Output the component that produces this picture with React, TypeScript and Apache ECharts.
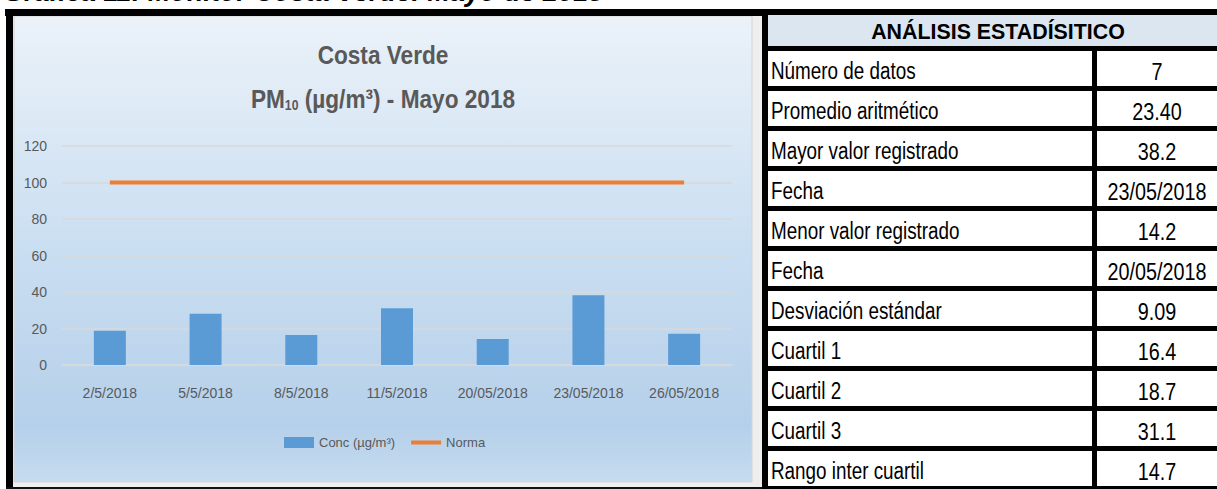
import React, { useEffect, useRef } from "react";
import * as echarts from "echarts";

const pageTitle = "Gráfica 11: Monitor Costa Verde: Mayo de 2018";
const chartTitleLine1 = "Costa Verde";
const chartTitlePrefix = "PM";
const chartTitleSub = "10";
const chartTitleSuffix = " (µg/m³) - Mayo 2018";

const categories = ["2/5/2018", "5/5/2018", "8/5/2018", "11/5/2018", "20/05/2018", "23/05/2018", "26/05/2018"];
const concValues = [18.7, 28.1, 16.4, 31.1, 14.2, 38.2, 17.1];
const normaValues = [100, 100, 100, 100, 100, 100, 100];
const seriesNames = ["Conc (µg/m³)", "Norma"];
const yMin = 0;
const yMax = 120;
const yInterval = 20;

const tableTitle = "ANÁLISIS ESTADÍSITICO";
const statLabels = [
  "Número de datos",
  "Promedio aritmético",
  "Mayor valor registrado",
  "Fecha",
  "Menor valor registrado",
  "Fecha",
  "Desviación estándar",
  "Cuartil 1",
  "Cuartil 2",
  "Cuartil 3",
  "Rango inter cuartil",
];
const statValues = ["7", "23.40", "38.2", "23/05/2018", "14.2", "20/05/2018", "9.09", "16.4", "18.7", "31.1", "14.7"];

const SANS = '"Liberation Sans", Arial, sans-serif';

export default function App() {
  const ref = useRef<HTMLDivElement>(null);

  useEffect(() => {
    if (!ref.current) return;
    const chart = echarts.init(ref.current, null, { renderer: "svg" });

    const graphics: any[] = [];
    // page title (cut off at top as in the original capture)
    graphics.push({
      type: "text",
      x: 3,
      y: -8,
      z: 1,
      style: { text: pageTitle, fill: "#000", font: `italic bold 27px ${SANS}`, textVerticalAlign: "middle" },
    });
    // outer frame area
    graphics.push({ type: "rect", z: -20, shape: { x: 13, y: 15, width: 750, height: 472 }, style: { fill: "#eeeeee" } });
    graphics.push({
      type: "rect",
      z: -19,
      shape: { x: 14, y: 16, width: 738, height: 466 },
      style: {
        fill: {
          type: "linear",
          x: 0,
          y: 0,
          x2: 0,
          y2: 1,
          colorStops: [
            { offset: 0, color: "#ebf2f9" },
            { offset: 0.5, color: "#cadef1" },
            { offset: 0.88, color: "#b5d0ea" },
            { offset: 1, color: "#c6dcef" },
          ],
        },
        stroke: "#d4d4d4",
        lineWidth: 1,
      },
    });
    graphics.push({ type: "rect", z: 5, shape: { x: 5, y: 9, width: 1212, height: 7 }, style: { fill: "#000" } });
    graphics.push({ type: "rect", z: 5, shape: { x: 6, y: 9, width: 7, height: 480 }, style: { fill: "#000" } });
    graphics.push({ type: "rect", z: 5, shape: { x: 6, y: 487, width: 760, height: 2 }, style: { fill: "#111" } });
    graphics.push({ type: "rect", z: 5, shape: { x: 762, y: 9, width: 6, height: 480 }, style: { fill: "#000" } });

    // chart titles
    graphics.push({
      type: "text",
      x: 383,
      y: 55,
      z: 3,
      scaleX: 0.87,
      style: {
        text: chartTitleLine1,
        fill: "#595959",
        font: `bold 26px ${SANS}`,
        textAlign: "center",
        textVerticalAlign: "middle",
      },
    });
    graphics.push({
      type: "text",
      x: 383,
      y: 97,
      z: 3,
      scaleX: 0.87,
      style: {
        text: `{a|${chartTitlePrefix}}{s|${chartTitleSub}}{a|${chartTitleSuffix}}`,
        textAlign: "center",
        textVerticalAlign: "middle",
        rich: {
          a: { fill: "#595959", font: `bold 26px ${SANS}`, lineHeight: 30, verticalAlign: "bottom" } as any,
          s: { fill: "#595959", font: `bold 14px ${SANS}`, lineHeight: 30, verticalAlign: "bottom", padding: [10, 0, 0, 0] } as any,
        },
      },
    });

    // table
    graphics.push({ type: "rect", z: 4, shape: { x: 768, y: 15, width: 449, height: 474 }, style: { fill: "#000" } });
    graphics.push({ type: "rect", z: 5, shape: { x: 768, y: 15, width: 449, height: 31 }, style: { fill: "#dce6f1" } });
    graphics.push({
      type: "text",
      x: 998,
      y: 31,
      z: 6,
      scaleX: 0.93,
      style: { text: tableTitle, fill: "#000", font: `bold 23px ${SANS}`, textAlign: "center", textVerticalAlign: "middle" },
    });
    statLabels.forEach((label, i) => {
      const top = 51 + 40 * i;
      graphics.push({ type: "rect", z: 5, shape: { x: 768, y: top, width: 324, height: 35 }, style: { fill: "#fff" } });
      graphics.push({ type: "rect", z: 5, shape: { x: 1097, y: top, width: 120, height: 35 }, style: { fill: "#fff" } });
      graphics.push({
        type: "text",
        x: 771,
        y: top + 20,
        z: 6,
        scaleX: 0.82,
        style: { text: label, fill: "#000", font: `23px ${SANS}`, textVerticalAlign: "middle" },
      });
      graphics.push({
        type: "text",
        x: 1157,
        y: top + 21,
        z: 6,
        scaleX: 0.86,
        style: { text: statValues[i], fill: "#000", font: `23px ${SANS}`, textAlign: "center", textVerticalAlign: "middle" },
      });
    });

    chart.setOption({
      animation: false,
      backgroundColor: "#ffffff",
      graphic: { elements: graphics },
      grid: { left: 62, right: 485, top: 146, bottom: 124, containLabel: false },
      legend: {
        left: 284,
        top: 436,
        padding: 0,
        itemWidth: 30,
        itemHeight: 11,
        itemGap: 16,
        textStyle: { color: "#595959", fontSize: 13, fontFamily: SANS },
        data: [
          { name: seriesNames[0], icon: "rect" },
          { name: seriesNames[1], icon: "path://M0,0 L30,0 L30,4 L0,4 Z" },
        ],
      },
      xAxis: {
        type: "category",
        data: categories,
        axisLine: { show: true, lineStyle: { color: "#d9d9d9", width: 1.5 } },
        axisTick: { show: false },
        axisLabel: { color: "#595959", fontSize: 14, fontFamily: SANS, margin: 21, interval: 0 },
      },
      yAxis: {
        type: "value",
        min: yMin,
        max: yMax,
        interval: yInterval,
        axisLine: { show: false },
        axisTick: { show: false },
        axisLabel: { color: "#595959", fontSize: 14, fontFamily: SANS, margin: 15 },
        splitLine: { lineStyle: { color: "#d9d9d9", width: 1.5 } },
      },
      series: [
        {
          name: seriesNames[0],
          type: "bar",
          data: concValues,
          barWidth: 32,
          itemStyle: { color: "#5b9bd5" },
        },
        {
          name: seriesNames[1],
          type: "line",
          data: normaValues,
          symbol: "none",
          lineStyle: { color: "#ed7d31", width: 4 },
          itemStyle: { color: "#ed7d31" },
        },
      ],
    });

    return () => chart.dispose();
  }, []);

  return <div ref={ref} style={{ position: "absolute", left: 0, top: 0, width: 1217, height: 489 }} />;
}
